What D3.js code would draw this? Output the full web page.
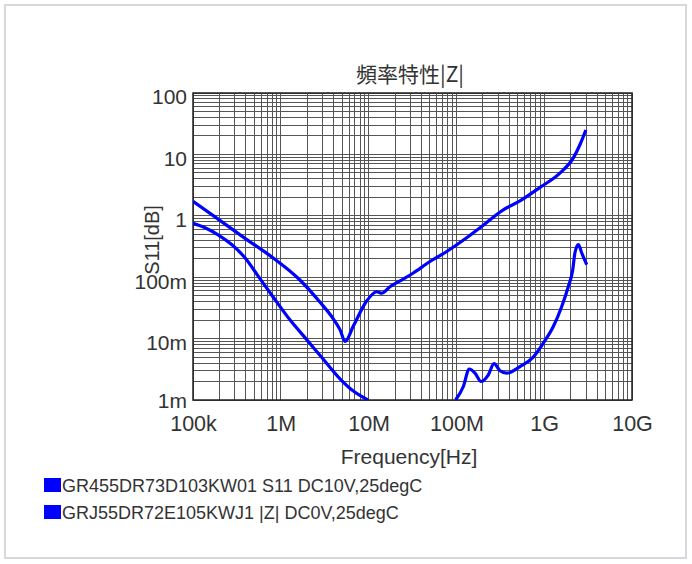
<!DOCTYPE html>
<html>
<head>
<meta charset="utf-8">
<script src="https://cdn.jsdelivr.net/npm/d3@7"></script>
<style>
  body { margin: 0; background: #fff; }
  text { font-family: "Liberation Sans", Arial, sans-serif; fill: #333; }
</style>
</head>
<body>
<svg id="chart" width="692" height="564"></svg>
<script>
// tick labels
const xTickValues = [1e5, 1e6, 1e7, 1e8, 1e9, 1e10];
const xTickLabels = ["100k", "1M", "10M", "100M", "1G", "10G"];
const yTickValues = [1e-3, 1e-2, 1e-1, 1, 10, 100];
const yTickLabels = ["1m", "10m", "100m", "1", "10", "100"];

// GR455DR73D103KW01 S11 DC10V,25degC  -> [frequency Hz, value]
const s11Data = [
  [1e5, 1.72], [1.78e5, 0.96], [4.1e5, 0.41], [8.2e5, 0.205], [1.65e6, 0.09],
  [2.8e6, 0.039], [3.96e6, 0.021], [4.72e6, 0.014], [5.4e6, 0.009], [6.7e6, 0.016],
  [9.5e6, 0.041], [1.24e7, 0.058], [1.41e7, 0.055], [1.75e7, 0.07], [2.28e7, 0.087],
  [3.23e7, 0.117], [5e7, 0.18], [7.76e7, 0.262], [1.31e8, 0.438], [1.86e8, 0.638],
  [3.42e8, 1.25], [5.3e8, 1.75], [8.95e8, 2.9], [1.51e9, 4.96], [2.14e9, 8.7],
  [2.56e9, 14.5], [2.98e9, 25]
];

// GRJ55DR72E105KWJ1 |Z| DC0V,25degC (null = below 1m, off the chart)
const zData = [
  [1e5, 0.755], [1.37e5, 0.638], [1.93e5, 0.49], [2.78e5, 0.337], [3.91e5, 0.207],
  [5.5e5, 0.105], [8.14e5, 0.048], [1.27e6, 0.0202], [1.94e6, 0.0099], [2.95e6, 0.00487],
  [4.72e6, 0.00221], [6.64e6, 0.00141], [9.84e6, 0.001],
  [3e7, null],
  [9.8e7, 0.001], [1.2e8, 0.00166], [1.4e8, 0.0032], [1.63e8, 0.00274], [1.91e8, 0.002],
  [2.31e8, 0.00257], [2.68e8, 0.0039], [3.14e8, 0.003], [3.74e8, 0.00274], [5.3e8, 0.0035],
  [7.5e8, 0.005], [9.8e8, 0.0085], [1.27e9, 0.0157], [1.58e9, 0.033], [1.88e9, 0.07],
  [2.11e9, 0.13], [2.24e9, 0.25], [2.45e9, 0.34], [2.67e9, 0.25], [3.05e9, 0.16]
];

const legendLabels = [
  "GR455DR73D103KW01 S11 DC10V,25degC",
  "GRJ55DR72E105KWJ1 |Z| DC0V,25degC"
];

const svg = d3.select("#chart");
const plotLeft = 193, plotRight = 632, plotTop = 93, plotBottom = 400;

// outer frame
svg.append("rect")
  .attr("x", 5).attr("y", 5).attr("width", 681).attr("height", 553)
  .attr("fill", "none").attr("stroke", "#d8d8dc").attr("stroke-width", 2);

const xScale = d3.scaleLog().domain([1e5, 1e10]).range([plotLeft, plotRight]);
const yScale = d3.scaleLog().domain([1e-3, 1e2]).range([plotBottom, plotTop]);

// grid
const grid = svg.append("g").attr("shape-rendering", "crispEdges")
  .attr("stroke", "#555").attr("stroke-width", 1);
grid.selectAll(".vx").data(xScale.ticks()).join("line")
  .attr("x1", d => xScale(d)).attr("x2", d => xScale(d))
  .attr("y1", plotTop).attr("y2", plotBottom);
grid.selectAll(".hy").data(yScale.ticks()).join("line")
  .attr("y1", d => yScale(d)).attr("y2", d => yScale(d))
  .attr("x1", plotLeft).attr("x2", plotRight);

svg.append("rect")
  .attr("x", plotLeft).attr("y", plotTop)
  .attr("width", plotRight - plotLeft).attr("height", plotBottom - plotTop)
  .attr("fill", "none").attr("stroke", "#222").attr("stroke-width", 1.5);

// axes (labels only)
const xAxis = d3.axisBottom(xScale).tickValues(xTickValues)
  .tickFormat((d, i) => xTickLabels[i]).tickSize(0).tickPadding(16);
svg.append("g").attr("transform", `translate(0,${plotBottom})`).call(xAxis)
  .call(g => g.select(".domain").remove())
  .selectAll("text").style("font-size", "21.5px").attr("fill", "#333");

const yAxis = d3.axisLeft(yScale).tickValues(yTickValues)
  .tickFormat((d, i) => yTickLabels[i]).tickSize(0).tickPadding(6);
svg.append("g").attr("transform", `translate(${plotLeft},0)`).call(yAxis)
  .call(g => g.select(".domain").remove())
  .selectAll("text").style("font-size", "21px").attr("fill", "#333")
  .attr("dy", (d, i) => i === 0 ? "0.38em" : "0.52em");

// curves
svg.append("clipPath").attr("id", "plotClip").append("rect")
  .attr("x", plotLeft).attr("y", plotTop - 2)
  .attr("width", plotRight - plotLeft).attr("height", plotBottom - plotTop + 2);

const line = d3.line()
  .defined(d => d[1] != null)
  .x(d => xScale(d[0]))
  .y(d => yScale(d[1]))
  .curve(d3.curveMonotoneX);

svg.append("g").attr("clip-path", "url(#plotClip)")
  .selectAll("path").data([s11Data, zData]).join("path")
  .attr("d", line)
  .attr("fill", "none")
  .attr("stroke", "#0000ff")
  .attr("stroke-width", 3.2)
  .attr("stroke-linejoin", "round");

// titles
svg.append("text")
  .attr("x", 410).attr("y", 82)
  .attr("text-anchor", "middle")
  .style("font-family", "'Noto Sans CJK JP', 'Liberation Sans', sans-serif")
  .style("font-size", "21px")
  .text("頻率特性|Z|");

svg.append("text")
  .attr("x", 409).attr("y", 464)
  .attr("text-anchor", "middle")
  .style("font-size", "21px")
  .text("Frequency[Hz]");

svg.append("text")
  .attr("transform", "translate(159,240) rotate(-90)")
  .attr("text-anchor", "middle")
  .style("font-size", "20px")
  .text("S11[dB]");

// legend
const legend = svg.append("g");
legendLabels.forEach((label, i) => {
  const y = 486 + i * 27;
  legend.append("rect")
    .attr("x", 44).attr("y", y - 8).attr("width", 17).attr("height", 14)
    .attr("fill", "#0000ff");
  legend.append("text")
    .attr("x", 62).attr("y", y + 6)
    .style("font-size", "18px")
    .text(label);
});
</script>
</body>
</html>
